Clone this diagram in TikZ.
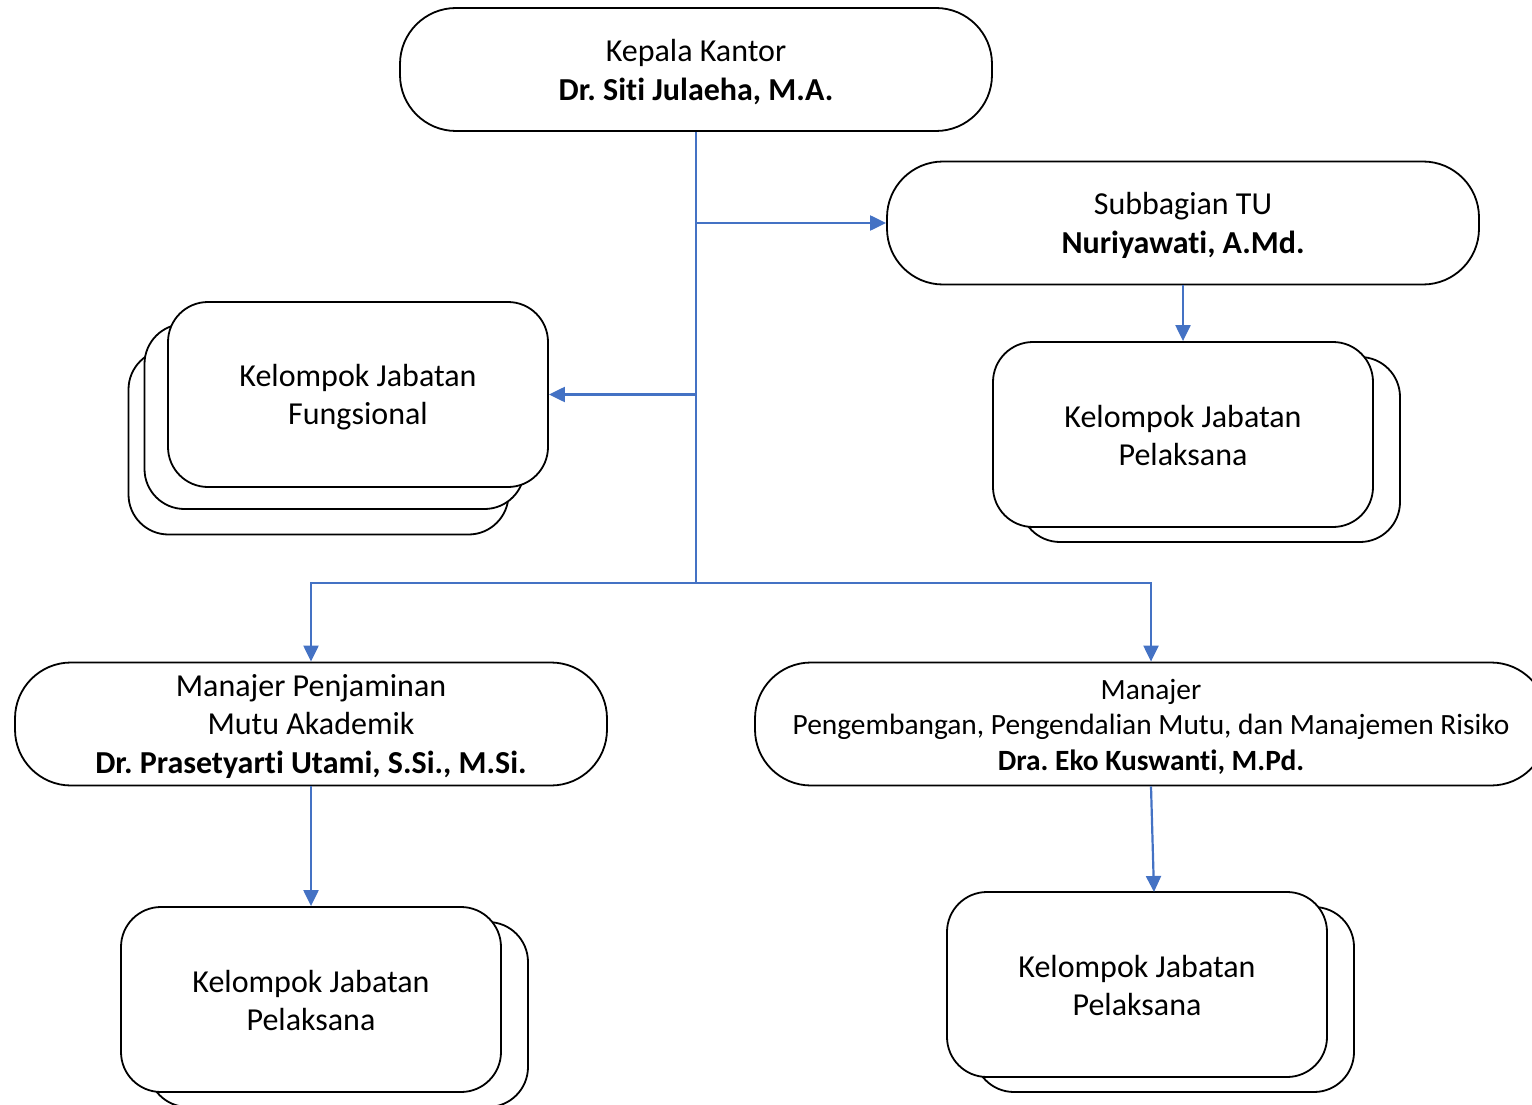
\documentclass[tikz,border=0pt]{standalone}
\usepackage{fontspec}
\setmainfont{Carlito}[Ligatures=NoCommon]
\frenchspacing
\usetikzlibrary{arrows.meta}
\definecolor{conn}{RGB}{68,114,196}
\begin{document}
\begin{tikzpicture}[x=1pt,y=-1pt,
  box/.style={draw=black,line width=1.8pt,fill=white,inner sep=0pt},
  pill/.style={box,minimum width=592pt,minimum height=123pt,rounded corners=56pt},
  grp/.style={box,minimum width=380pt,minimum height=185pt,rounded corners=40pt},
  txt/.style={inner sep=0pt,align=center,font=\fontsize{32}{38.5}\selectfont},
  smalltxt/.style={txt,font=\fontsize{29.4}{35.5}\selectfont},
  arr/.style={draw=conn,line width=2.2pt,-{Triangle[length=16pt,width=15pt]}},
  ln/.style={draw=conn,line width=2.2pt}]
\useasboundingbox (0,0) rectangle (1532,1105);
\clip (0,0) rectangle (1532,1105);
% top
\node[pill] (k) at (696,69.5) {};
\node[txt] (kt) at ([yshift=-2.5pt]k.center) {Kepala Kantor\\\textbf{Dr. Siti Julaeha, M.A.}};
\node[pill] (tu) at (1183,223) {};
\node[txt] (tut) at ([yshift=-2.5pt]tu.center) {Subbagian TU\\\textbf{Nuriyawati, A.Md.}};
% fungsional stack
\node[grp] (f3) at (318.5,442) {};
\node[grp] (f2) at (334.5,416.5) {};
\node[grp] (fung) at (358,394.5) {};
\node[txt] (fungt) at ([yshift=-2.5pt]fung.center) {Kelompok Jabatan\\Fungsional};
% pelaksana right top
\node[grp] (p1b) at (1210,449.5) {};
\node[grp] (pel1) at (1183,434.5) {};
\node[txt] (pel1t) at ([yshift=-1pt]pel1.center) {Kelompok Jabatan\\Pelaksana};
% managers
\node[pill] (pma) at (311,724) {};
\node[txt] (pmat) at ([yshift=-2.5pt]pma.center) {Manajer Penjaminan\\Mutu Akademik\\\textbf{Dr. Prasetyarti Utami, S.Si., M.Si.}};
\node[pill,minimum width=792pt] (ppm) at (1151,724) {};
\node[smalltxt] (ppmt) at ([yshift=-2.5pt]ppm.center)
  {Manajer\\Pengembangan, Pengendalian Mutu, dan Manajemen Risiko\\\textbf{Dra. Eko Kuswanti, M.Pd.}};
% bottom groups
\node[grp] (p2b) at (338,1014.5) {};
\node[grp] (pel2) at (311,999.5) {};
\node[txt] (pel2t) at ([yshift=-1pt]pel2.center) {Kelompok Jabatan\\Pelaksana};
\node[grp] (p3b) at (1164,999.5) {};
\node[grp] (pel3) at (1137,984.5) {};
\node[txt] (pel3t) at ([yshift=-1pt]pel3.center) {Kelompok Jabatan\\Pelaksana};
% connectors
\coordinate (j1) at (696,583);
\draw[ln] (k.south) -- (j1);
\draw[arr] (k.south |- tu.west) -- (tu.west);
\draw[arr] (k.south |- fung.east) -- (fung.east);
\draw[arr] (j1) -| (pma.north);
\draw[arr] (j1) -| (ppm.north);
\draw[arr] (tu.south) -- (pel1.north);
\draw[arr] (pma.south) -- (pel2.north);
\coordinate (p3t) at (1154,892);
\draw[arr] (ppm.south) -- (p3t);
\end{tikzpicture}
\end{document}
